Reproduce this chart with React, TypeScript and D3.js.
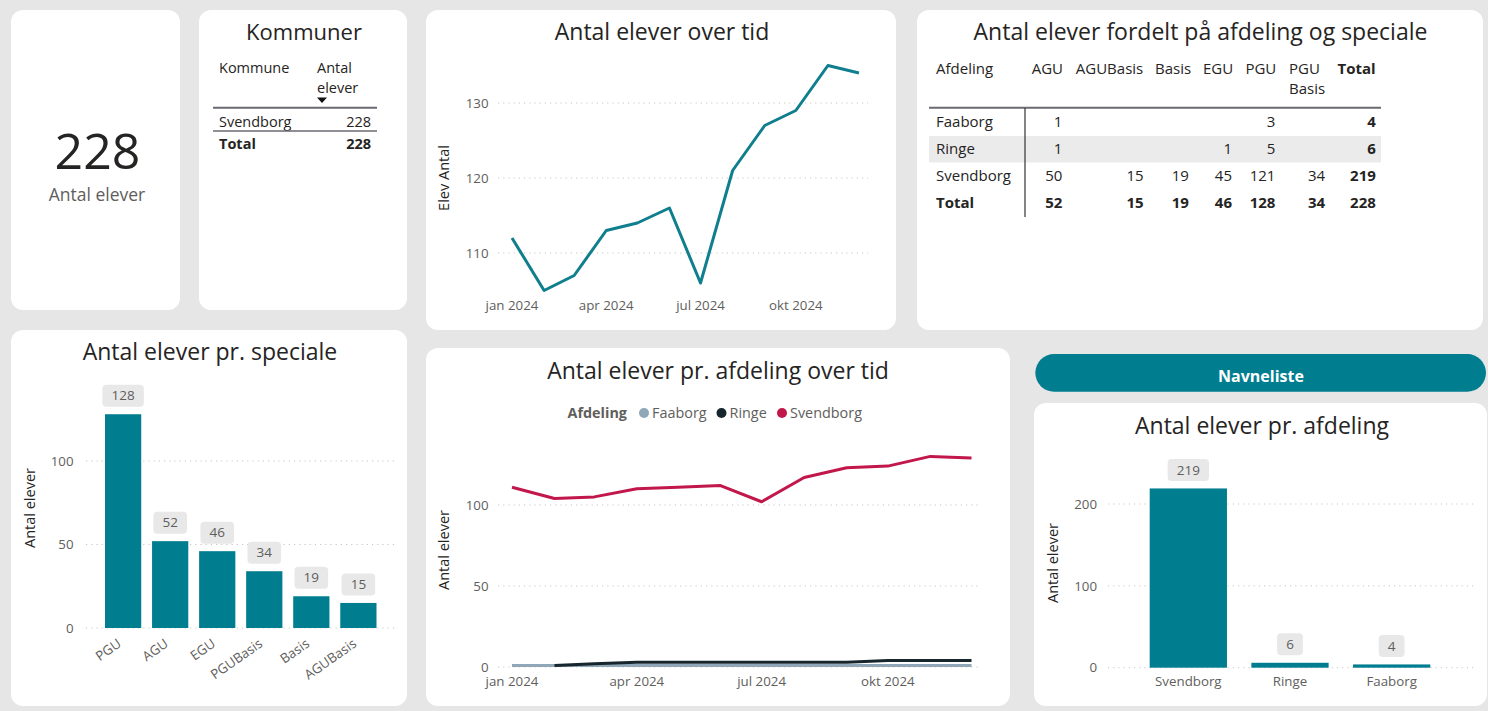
import React from 'react';
import * as d3 from 'd3';

// data
const monthStarts = ['2024-01-01', '2024-02-01', '2024-03-01', '2024-04-01', '2024-05-01', '2024-06-01',
  '2024-07-01', '2024-08-01', '2024-09-01', '2024-10-01', '2024-11-01', '2024-12-01'];
const monthLabels = ['jan', 'feb', 'mar', 'apr', 'maj', 'jun', 'jul', 'aug', 'sep', 'okt', 'nov', 'dec'];
const elevAntal = [112, 105, 107, 113, 114, 116, 106, 121, 127, 129, 135, 134];

const afdelinger = ['Faaborg', 'Ringe', 'Svendborg'];
const faaborgElever = [1, 1, 1, 1, 1, 1, 1, 1, 1, 1, 1, 1];
const ringeElever = [null, 1, 2, 3, 3, 3, 3, 3, 3, 4, 4, 4];
const svendborgElever = [111, 104, 105, 110, 111, 112, 102, 117, 123, 124, 130, 129];
const afdelingColors = ['#8fa7b7', '#17252d', '#c2174b'];

const specialer = ['PGU', 'AGU', 'EGU', 'PGUBasis', 'Basis', 'AGUBasis'];
const eleverPrSpeciale = [128, 52, 46, 34, 19, 15];

const afdelingOrder = ['Svendborg', 'Ringe', 'Faaborg'];
const eleverPrAfdeling = [219, 6, 4];

// matrix: distinct counts, so totals are read off too (they are not plain sums)
const matrixColumns = ['AGU', 'AGUBasis', 'Basis', 'EGU', 'PGU', 'PGU Basis'];
const faaborgMatrix = [1, null, null, null, 3, null];
const ringeMatrix = [1, null, null, 1, 5, null];
const svendborgMatrix = [50, 15, 19, 45, 121, 34];
const matrixRowTotals = [4, 6, 219];
const matrixColumnTotals = [52, 15, 19, 46, 128, 34];
const matrixGrandTotal = 228;

const kommuner = ['Svendborg'];
const kommuneElever = [228];
const kommuneTotal = 228;

const FONT = "'Segoe UI', 'Open Sans', sans-serif";
const DARK = '#252423';
const GREY = '#605e5c';
const GRID = '#c8c6c4';
const TEAL = '#017d90';
const parseDate = d3.timeParse('%Y-%m-%d');
const dates = monthStarts.map(d => parseDate(d) as Date);
const fmtMonth = (d: Date) => `${monthLabels[d.getMonth()]} ${d.getFullYear()}`;

function Panel({ x, y, w, h }: any) {
  return <rect x={x} y={y} width={w} height={h} rx={12} fill="#fff" />;
}

function Title({ x, y, text, size = 23 }: any) {
  return <text x={x} y={y} textAnchor="middle" fontSize={size} fill={DARK}>{text}</text>;
}

function KpiCard() {
  return (
    <g>
      <Panel x={11} y={10} w={169} h={300} />
      <text x={97.5} y={169} textAnchor="middle" fontSize={50} fill={DARK}>{kommuneTotal}</text>
      <text x={97} y={201} textAnchor="middle" fontSize={17.5} fill={GREY}>Antal elever</text>
    </g>
  );
}

function KommuneTable() {
  return (
    <g fontSize={14.5} fill={DARK}>
      <Panel x={199} y={10} w={208} h={300} />
      <Title x={304} y={40} text="Kommuner" size={22} />
      <text x={219} y={73}>Kommune</text>
      <text x={317} y={73}>Antal</text>
      <text x={317} y={93}>elever</text>
      <path d="M317,97.5 L327,97.5 L322,103 Z" fill="#111" />
      <line x1={213} x2={377} y1={107.7} y2={107.7} stroke="#6a6a72" strokeWidth={2} />
      {kommuner.map((k, i) => (
        <g key={k}>
          <text x={219} y={126.5 + i * 22}>{k}</text>
          <text x={371} y={126.5 + i * 22} textAnchor="end">{kommuneElever[i]}</text>
        </g>
      ))}
      <line x1={213} x2={377} y1={131} y2={131} stroke="#6a6a72" strokeWidth={1.6} />
      <text x={219} y={149} fontWeight="bold">Total</text>
      <text x={371} y={149} fontWeight="bold" textAnchor="end">{kommuneTotal}</text>
    </g>
  );
}

function ElevOverTid() {
  const x = d3.scaleTime().domain(d3.extent(dates) as [Date, Date]).range([512, 859]);
  const y = d3.scaleLinear().domain([110, 130]).range([253, 103]);
  const line = d3.line<number>().x((_, i) => x(dates[i])).y(d => y(d));
  const xTicks = x.ticks(d3.timeMonth.every(3) as any);
  return (
    <g>
      <Panel x={426} y={10} w={470} h={320} />
      <Title x={662} y={40} text="Antal elever over tid" />
      {y.ticks(2).map(t => (
        <g key={t}>
          <line x1={498} x2={868} y1={y(t)} y2={y(t)} stroke={GRID} strokeDasharray="1.2 4" />
          <text x={488.5} y={y(t)} dy="0.35em" textAnchor="end" fontSize={13.3} fill={GREY}>{t}</text>
        </g>
      ))}
      {xTicks.map(t => (
        <text key={+t} x={x(t)} y={310} textAnchor="middle" fontSize={13.3} fill={GREY}>{fmtMonth(t)}</text>
      ))}
      <text transform="translate(449,178) rotate(-90)" textAnchor="middle" fontSize={14.5} fill={DARK}>Elev Antal</text>
      <path d={line(elevAntal) || ''} fill="none" stroke="#0f7e8d" strokeWidth={3} strokeLinejoin="round" />
    </g>
  );
}

function MatrixTable() {
  const rows = [faaborgMatrix, ringeMatrix, svendborgMatrix];
  const headerLeft = [1031.7, 1075.8, 1155, 1203, 1245.4, 1289, 1337.5];
  const valueRight = [1062.4, 1143.6, 1188.8, 1232, 1275.4, 1325.2, 1375.8];
  const rowY = [127, 154, 181, 207.5];
  const allRows = [
    ...rows.map((r, i) => [...r, matrixRowTotals[i]]),
    [...matrixColumnTotals, matrixGrandTotal],
  ];
  const labels = [...afdelinger, 'Total'];
  return (
    <g fontSize={15} fill={DARK}>
      <Panel x={917} y={10} w={566} h={320} />
      <Title x={1200.5} y={40} text="Antal elever fordelt på afdeling og speciale" />
      <text x={936} y={74}>Afdeling</text>
      {[...matrixColumns, 'Total'].map((c, i) => {
        const parts = c.split(' ');
        return (
          <text key={c} x={headerLeft[i]} y={74} fontWeight={c === 'Total' ? 'bold' : 'normal'}>
            {parts.map((p, j) => <tspan key={j} x={headerLeft[i]} dy={j ? 20 : 0}>{p}</tspan>)}
          </text>
        );
      })}
      <rect x={929} y={136} width={452} height={26.5} fill="#ebebeb" />
      <line x1={929} x2={1381} y1={107.7} y2={107.7} stroke="#6a6a72" strokeWidth={2} />
      <line x1={1025} x2={1025} y1={108} y2={217} stroke="#333" strokeWidth={1.2} />
      {allRows.map((r, ri) => (
        <g key={ri} fontWeight={ri === 3 ? 'bold' : 'normal'}>
          <text x={936} y={rowY[ri]}>{labels[ri]}</text>
          {r.map((v, ci) => v ? (
            <text key={ci} x={valueRight[ci]} y={rowY[ri]} textAnchor="end"
              fontWeight={ri === 3 || ci === 6 ? 'bold' : 'normal'}>{v}</text>
          ) : null)}
        </g>
      ))}
    </g>
  );
}

function LabelBox({ cx, top, value }: any) {
  const w = String(value).length * 7.8 + 18;
  return (
    <g>
      <rect x={cx - w / 2} y={top - 29.5} width={w} height={22} rx={4} fill="#e8e8e8" />
      <text x={cx} y={top - 18.5} dy="0.35em" textAnchor="middle" fontSize={13.5} fill={GREY}>{value}</text>
    </g>
  );
}

function SpecialeBars() {
  const x = d3.scaleBand().domain(specialer).range([105, 376.5]).paddingInner(0.23).paddingOuter(0);
  const y = d3.scaleLinear().domain([0, 100]).range([628, 461]);
  return (
    <g>
      <Panel x={11} y={330} w={396} h={376} />
      <Title x={210} y={360} text="Antal elever pr. speciale" />
      {y.ticks(2).map(t => (
        <g key={t}>
          <line x1={86} x2={394} y1={y(t)} y2={y(t)} stroke={GRID} strokeDasharray="1.2 4" />
          <text x={73.5} y={y(t)} dy="0.35em" textAnchor="end" fontSize={13.3} fill={GREY}>{t}</text>
        </g>
      ))}
      <text transform="translate(35,508) rotate(-90)" textAnchor="middle" fontSize={14.5} fill={DARK}>Antal elever</text>
      {specialer.map((s, i) => {
        const v = eleverPrSpeciale[i];
        const cx = (x(s) as number) + x.bandwidth() / 2;
        return (
          <g key={s}>
            <rect x={x(s)} y={y(v)} width={x.bandwidth()} height={y(0) - y(v)} fill={TEAL} />
            <LabelBox cx={cx} top={y(v)} value={v} />
            <text transform={`translate(${cx - 7},637) rotate(-35)`} dy="0.8em" textAnchor="end"
              fontSize={13.3} fill={GREY}>{s}</text>
          </g>
        );
      })}
    </g>
  );
}

function AfdelingOverTid() {
  const x = d3.scaleTime().domain(d3.extent(dates) as [Date, Date]).range([512, 971.5]);
  const y = d3.scaleLinear().domain([0, 100]).range([667, 505]);
  const line = d3.line<number | null>().defined(d => d != null).x((_, i) => x(dates[i])).y(d => y(d as number));
  const series = [faaborgElever, ringeElever, svendborgElever];
  const xTicks = x.ticks(d3.timeMonth.every(3) as any);
  const legendDot = [644, 721.5, 782];
  return (
    <g>
      <Panel x={426} y={348} w={584} h={358} />
      <Title x={718} y={379} text="Antal elever pr. afdeling over tid" />
      <text x={567.5} y={413} dy="0.35em" fontSize={14.4} fontWeight="bold" fill={GREY}>Afdeling</text>
      {afdelinger.map((a, i) => (
        <g key={a}>
          <circle cx={legendDot[i]} cy={413} r={5} fill={afdelingColors[i]} />
          <text x={legendDot[i] + 8} y={413} dy="0.35em" fontSize={14.4} fill={GREY}>{a}</text>
        </g>
      ))}
      {y.ticks(2).map(t => (
        <g key={t}>
          <line x1={498} x2={980} y1={y(t)} y2={y(t)} stroke={GRID} strokeDasharray="1.2 4" />
          <text x={488.5} y={y(t)} dy="0.35em" textAnchor="end" fontSize={13.3} fill={GREY}>{t}</text>
        </g>
      ))}
      {xTicks.map(t => (
        <text key={+t} x={x(t)} y={685.5} textAnchor="middle" fontSize={13.3} fill={GREY}>{fmtMonth(t)}</text>
      ))}
      <text transform="translate(449,550) rotate(-90)" textAnchor="middle" fontSize={14.5} fill={DARK}>Antal elever</text>
      {series.map((s, i) => (
        <path key={afdelinger[i]} d={line(s) || ''} fill="none" stroke={afdelingColors[i]} strokeWidth={3}
          strokeLinejoin="round" />
      ))}
    </g>
  );
}

function AfdelingBars() {
  const x = d3.scaleBand().domain(afdelingOrder).range([1149.7, 1430.3]).paddingInner(0.24).paddingOuter(0);
  const y = d3.scaleLinear().domain([0, 200]).range([667.7, 504]);
  return (
    <g>
      <rect x={1035.3} y={354} width={450.7} height={37.7} rx={18.85} fill={TEAL} />
      <text x={1261} y={382} textAnchor="middle" fontSize={16} fontWeight="bold" fill="#fff">Navneliste</text>
      <Panel x={1034} y={403} w={453} h={303} />
      <Title x={1262} y={433.5} text="Antal elever pr. afdeling" />
      {y.ticks(2).map(t => (
        <g key={t}>
          <line x1={1108} x2={1477} y1={y(t)} y2={y(t)} stroke={GRID} strokeDasharray="1.2 4" />
          <text x={1097} y={y(t)} dy="0.35em" textAnchor="end" fontSize={13.3} fill={GREY}>{t}</text>
        </g>
      ))}
      <text transform="translate(1058,563) rotate(-90)" textAnchor="middle" fontSize={14.5} fill={DARK}>Antal elever</text>
      {afdelingOrder.map((a, i) => {
        const v = eleverPrAfdeling[i];
        const cx = (x(a) as number) + x.bandwidth() / 2;
        return (
          <g key={a}>
            <rect x={x(a)} y={y(v)} width={x.bandwidth()} height={y(0) - y(v)} fill={TEAL} />
            <LabelBox cx={cx} top={y(v)} value={v} />
            <text x={cx} y={686} textAnchor="middle" fontSize={13.3} fill={GREY}>{a}</text>
          </g>
        );
      })}
    </g>
  );
}

export default function App() {
  return (
    <div>
      <style>{'body{margin:0;}'}</style>
      <svg width={1488} height={711} style={{ display: 'block', fontFamily: FONT }}>
        <rect width={1488} height={711} fill="#e6e6e6" />
        <KpiCard />
        <KommuneTable />
        <ElevOverTid />
        <MatrixTable />
        <SpecialeBars />
        <AfdelingOverTid />
        <AfdelingBars />
      </svg>
    </div>
  );
}
